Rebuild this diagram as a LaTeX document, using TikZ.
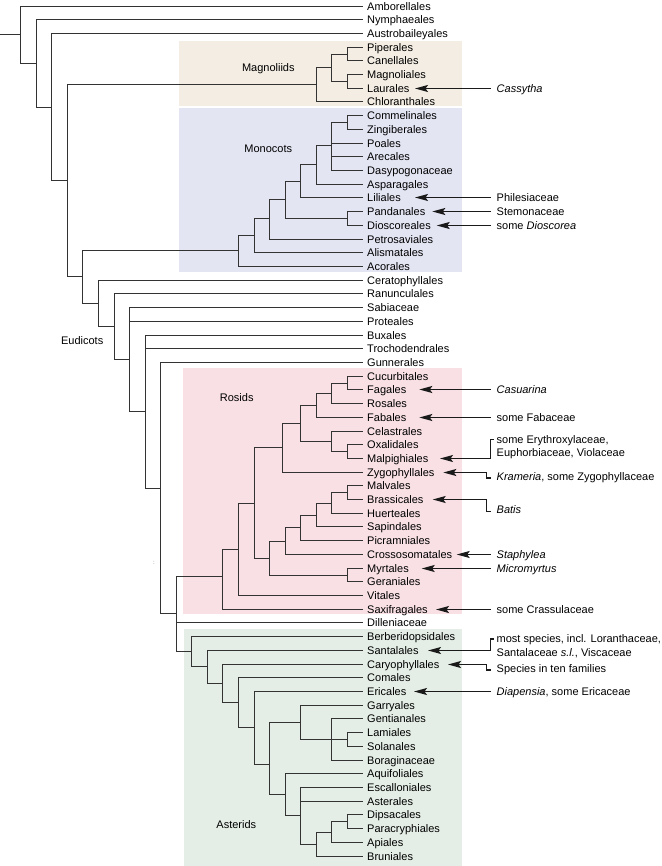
\documentclass[tikz,border=0pt]{standalone}
\usepackage{fontspec}
\setmainfont{Liberation Sans}
\usetikzlibrary{arrows.meta}
\definecolor{treecol}{HTML}{333333}
\definecolor{arrcol}{HTML}{1A1A1A}
\definecolor{magbg}{HTML}{F3EDE3}
\definecolor{monbg}{HTML}{E3E5F3}
\definecolor{rosbg}{HTML}{F8E0E4}
\definecolor{astbg}{HTML}{E4EEE6}
\newcommand\mkleaf[3]{\node[leaf] (#1) at (363,{floor(6+13.71*#2)+0.5}) {#3};}
\begin{document}
\begin{tikzpicture}[x=1pt,y=-1pt,
  font=\fontsize{11}{13}\selectfont,
  leaf/.style={anchor=west,inner xsep=4pt,inner ysep=0pt,text height=8.5pt,text depth=1pt},
  ann/.style={anchor=west,inner xsep=6pt,inner ysep=0pt,text height=8.5pt,text depth=1pt},
  grp/.style={inner sep=0pt,text height=8.5pt,text depth=1pt},
  br/.style={line width=1.8pt,draw=treecol},
  arr/.style={line width=1.4pt,draw=arrcol,-{Stealth[length=13pt,width=7pt,inset=2.5pt]}}
]
\useasboundingbox (0,0) rectangle (661,866);
% clade backgrounds
\fill[magbg] (179,41) rectangle (462,106);
\fill[monbg] (179,108) rectangle (462,272);
\fill[rosbg] (183,368) rectangle (462,614);
\fill[astbg] (184,629) rectangle (462,866);
% leaves
\mkleaf{Amb}{0}{Amborellales}
\mkleaf{Nym}{1}{Nymphaeales}
\mkleaf{Aus}{2}{Austrobaileyales}
\mkleaf{Pip}{3}{Piperales}
\mkleaf{Can}{4}{Canellales}
\mkleaf{Mag}{5}{Magnoliales}
\mkleaf{Lau}{6}{Laurales}
\mkleaf{Chl}{7}{Chloranthales}
\mkleaf{Com}{8}{Commelinales}
\mkleaf{Zin}{9}{Zingiberales}
\mkleaf{Poa}{10}{Poales}
\mkleaf{Are}{11}{Arecales}
\mkleaf{Das}{12}{Dasypogonaceae}
\mkleaf{Asp}{13}{Asparagales}
\mkleaf{Lil}{14}{Liliales}
\mkleaf{Pan}{15}{Pandanales}
\mkleaf{Dio}{16}{Dioscoreales}
\mkleaf{Pet}{17}{Petrosaviales}
\mkleaf{Ali}{18}{Alismatales}
\mkleaf{Aco}{19}{Acorales}
\mkleaf{Cer}{20}{Ceratophyllales}
\mkleaf{Ran}{21}{Ranunculales}
\mkleaf{Sab}{22}{Sabiaceae}
\mkleaf{Pro}{23}{Proteales}
\mkleaf{Bux}{24}{Buxales}
\mkleaf{Tro}{25}{Trochodendrales}
\mkleaf{Gun}{26}{Gunnerales}
\mkleaf{Cuc}{27}{Cucurbitales}
\mkleaf{Fag}{28}{Fagales}
\mkleaf{Ros}{29}{Rosales}
\mkleaf{Fab}{30}{Fabales}
\mkleaf{Cel}{31}{Celastrales}
\mkleaf{Oxa}{32}{Oxalidales}
\mkleaf{Mal}{33}{Malpighiales}
\mkleaf{Zyg}{34}{Zygophyllales}
\mkleaf{Mlv}{35}{Malvales}
\mkleaf{Bra}{36}{Brassicales}
\mkleaf{Hue}{37}{Huerteales}
\mkleaf{Sap}{38}{Sapindales}
\mkleaf{Pic}{39}{Picramniales}
\mkleaf{Cro}{40}{Crossosomatales}
\mkleaf{Myr}{41}{Myrtales}
\mkleaf{Ger}{42}{Geraniales}
\mkleaf{Vit}{43}{Vitales}
\mkleaf{Sax}{44}{Saxifragales}
\mkleaf{Dil}{45}{Dilleniaceae}
\mkleaf{Ber}{46}{Berberidopsidales}
\mkleaf{San}{47}{Santalales}
\mkleaf{Car}{48}{Caryophyllales}
\mkleaf{Cor}{49}{Comales}
\mkleaf{Eri}{50}{Ericales}
\mkleaf{Gar}{51}{Garryales}
\mkleaf{Gen}{52}{Gentianales}
\mkleaf{Lam}{53}{Lamiales}
\mkleaf{Sol}{54}{Solanales}
\mkleaf{Bor}{55}{Boraginaceae}
\mkleaf{Aqu}{56}{Aquifoliales}
\mkleaf{Esc}{57}{Escalloniales}
\mkleaf{Ast}{58}{Asterales}
\mkleaf{Dip}{59}{Dipsacales}
\mkleaf{Par}{60}{Paracryphiales}
\mkleaf{Api}{61}{Apiales}
\mkleaf{Bru}{62}{Bruniales}
% internal nodes
\coordinate (r0) at (0,34.5);
\coordinate (n1) at (20.5,34.5);
\coordinate (n2) at (36.5,63.5);
\coordinate (n3) at (51.5,107.5);
\coordinate (n4) at (67.5,180.5);
\coordinate (n5) at (82.5,276.5);
\coordinate (n6) at (98.5,303.5);
\coordinate (n7) at (114.5,326.5);
\coordinate (n8) at (129.5,359.5);
\coordinate (n9) at (145.5,411.5);
\coordinate (n10) at (160.5,488.5);
\coordinate (n11) at (176.5,613.5);
\coordinate (m1) at (316.5,84.5);
\coordinate (m2) at (331.5,67.5);
\coordinate (m3) at (347.5,54.5);
\coordinate (m4) at (347.5,81.5);
\coordinate (k1) at (238.5,250.5);
\coordinate (k2) at (254.5,235.5);
\coordinate (k3) at (269.5,218.5);
\coordinate (k4) at (285.5,199.5);
\coordinate (k5) at (300.5,181.5);
\coordinate (k6) at (347.5,218.5);
\coordinate (k7) at (316.5,164.5);
\coordinate (k8) at (331.5,145.5);
\coordinate (k9) at (347.5,122.5);
\coordinate (ro1) at (222.5,576.5);
\coordinate (ro2) at (238.5,549.5);
\coordinate (ro3) at (254.5,503.5);
\coordinate (fab1) at (282.5,447.5);
\coordinate (fab2) at (300.5,423.5);
\coordinate (fab3) at (316.5,405.5);
\coordinate (fab4) at (331.5,393.5);
\coordinate (fab5) at (347.5,383.5);
\coordinate (cel1) at (331.5,441.5);
\coordinate (cel2) at (347.5,451.5);
\coordinate (mal1) at (269.5,558.5);
\coordinate (mal2) at (285.5,541.5);
\coordinate (mal3) at (300.5,527.5);
\coordinate (mal4) at (316.5,515.5);
\coordinate (mal5) at (331.5,503.5);
\coordinate (mal6) at (347.5,492.5);
\coordinate (myr1) at (347.5,575.5);
\coordinate (a1) at (191.5,651.5);
\coordinate (a2) at (207.5,666.5);
\coordinate (a3) at (222.5,683.5);
\coordinate (a4) at (238.5,702.5);
\coordinate (a5) at (254.5,727.5);
\coordinate (a6) at (269.5,764.5);
\coordinate (a7) at (300.5,722.5);
\coordinate (a8) at (285.5,794.5);
\coordinate (a9) at (331.5,739.5);
\coordinate (a10) at (347.5,739.5);
\coordinate (a11) at (300.5,815.5);
\coordinate (a12) at (316.5,844.5);
\coordinate (a13) at (331.5,832.5);
\coordinate (a14) at (347.5,821.5);
% branches
\draw[br] (r0) -- (n1);
\foreach \p/\c in {n1/n2,n2/n3,n3/n4,n4/m1,n4/n5,m1/m2,m2/m3,m2/m4,n5/k1,n5/n6,
  k1/k2,k2/k3,k3/k4,k4/k5,k4/k6,k5/k7,k7/k8,k8/k9,n6/n7,n7/n8,n8/n9,n9/n10,n10/n11,
  n11/ro1,n11/a1,ro1/ro2,ro2/ro3,ro3/fab1,ro3/mal1,fab1/fab2,fab2/fab3,fab2/cel1,
  fab3/fab4,fab4/fab5,cel1/cel2,mal1/mal2,mal1/myr1,mal2/mal3,mal3/mal4,mal4/mal5,
  mal5/mal6,a1/a2,a2/a3,a3/a4,a4/a5,a5/a6,a6/a7,a6/a8,a7/a9,a9/a10,a8/a11,a11/a12,
  a12/a13,a13/a14}
  \draw[br] (\p) |- (\c);
\foreach \p/\c in {n1/Amb,n2/Nym,n3/Aus,m1/Chl,m3/Pip,m3/Can,m4/Mag,m4/Lau,
  k1/Aco,k2/Ali,k3/Pet,k6/Pan,k6/Dio,k5/Lil,k7/Asp,k8/Poa,k8/Are,k8/Das,k9/Com,k9/Zin,
  n6/Cer,n7/Ran,n8/Sab,n8/Pro,n9/Bux,n9/Tro,n10/Gun,n11/Dil,
  ro1/Sax,ro2/Vit,fab1/Zyg,fab3/Fab,fab4/Ros,fab5/Cuc,fab5/Fag,cel1/Cel,cel2/Oxa,cel2/Mal,
  myr1/Myr,myr1/Ger,mal2/Cro,mal3/Pic,mal4/Sap,mal5/Hue,mal6/Mlv,mal6/Bra,
  a1/Ber,a2/San,a3/Car,a4/Cor,a5/Eri,a7/Gar,a9/Gen,a9/Bor,a10/Lam,a10/Sol,
  a8/Aqu,a11/Esc,a11/Ast,a12/Bru,a13/Api,a14/Dip,a14/Par}
  \draw[br] (\p) |- (\c.west);
% group labels
\node[grp] (lmag) at (268.3,67.3) {Magnoliids};
\node[grp] (lmon) at (268.3,148.7) {Monocots};
\node[grp] (leud) at (82.2,341) {Eudicots};
\node[grp] (lros) at (236.7,397.7) {Rosids};
\node[grp] (lasd) at (236.3,825) {Asterids};
\node[inner sep=0pt,font=\fontsize{6}{6}\selectfont,text=gray] (dots) at (154,563) {:};
% annotations (aligned on the rows of the leaves they point to)
\node[ann] (cas) at ([xshift=127.5pt]Lau.west) {\textit{Cassytha}};
\node[ann] (phi) at ([xshift=127.5pt]Lil.west) {Philesiaceae};
\node[ann] (ste) at ([xshift=127.5pt]Pan.west) {Stemonaceae};
\node[ann] (dsc) at ([xshift=127.5pt]Dio.west) {some \textit{Dioscorea}};
\node[ann] (csu) at ([xshift=127.5pt]Fag.west) {\textit{Casuarina}};
\node[ann] (sfb) at ([xshift=127.5pt]Fab.west) {some Fabaceae};
\node[ann] (ery) at (490.5,439.5) {some Erythroxylaceae,};
\node[ann] (eup) at (490.5,453) {Euphorbiaceae, Violaceae};
\node[ann] (kra) at (490.5,476.5) {\textit{Krameria}, some Zygophyllaceae};
\node[ann] (bat) at (490.5,510) {\textit{Batis}};
\node[ann] (sta) at ([xshift=127.5pt]Cro.west) {\textit{Staphylea}};
\node[ann] (mic) at ([xshift=127.5pt]Myr.west) {\textit{Micromyrtus}};
\node[ann] (cra) at ([xshift=127.5pt]Sax.west) {some Crassulaceae};
\node[ann] (lor) at (490.5,639) {most species, incl. Loranthaceae,};
\node[ann] (vis) at (490.5,652.5) {Santalaceae \textit{s.l.}, Viscaceae};
\node[ann] (ten) at (490.5,668.5) {Species in ten families};
\node[ann] (dia) at ([xshift=127.5pt]Eri.west) {\textit{Diapensia}, some Ericaceae};
% arrow tips, just right of the leaf labels
\path (Lau.west) ++(52,0) coordinate (tLau);
\path (Lil.west) ++(52,0) coordinate (tLil);
\path (Pan.west) ++(69.3,0) coordinate (tPan);
\path (Dio.west) ++(73.7,0) coordinate (tDio);
\path (Fag.west) ++(56.3,0) coordinate (tFag);
\path (Fab.west) ++(56.3,0) coordinate (tFab);
\path (Mal.west) ++(77,0) coordinate (tMal);
\path (Zyg.west) ++(80.3,0) coordinate (tZyg);
\path (Bra.west) ++(69.7,0) coordinate (tBra);
\path (Cro.west) ++(93.7,0) coordinate (tCro);
\path (Myr.west) ++(58.7,0) coordinate (tMyr);
\path (Sax.west) ++(73,0) coordinate (tSax);
\path (San.west) ++(65,0) coordinate (tSan);
\path (Car.west) ++(85,0) coordinate (tCar);
\path (Eri.west) ++(51,0) coordinate (tEri);
% arrows
\draw[arr] (cas.west) -- (tLau);
\draw[arr] (phi.west) -- (tLil);
\draw[arr] (ste.west) -- (tPan);
\draw[arr] (dsc.west) -- (tDio);
\draw[arr] (csu.west) -- (tFag);
\draw[arr] (sfb.west) -- (tFab);
\draw[arr] ([xshift=3pt]ery.west) -- (ery.west) |- (tMal);
\draw[arr] ([yshift=-1.5pt]kra.west) -- ++(-4,0) |- (tZyg);
\draw[arr] ([yshift=-1.5pt]bat.west) -- ++(-4,0) |- (tBra);
\draw[arr] (sta.west) -- (tCro);
\draw[arr] (mic.west) -- (tMyr);
\draw[arr] (cra.west) -- (tSax);
\draw[arr] ([xshift=3pt]lor.west) -- (lor.west) |- (tSan);
\draw[arr] ([yshift=-1.5pt]ten.west) -- ++(-4,0) |- (tCar);
\draw[arr] (dia.west) -- (tEri);
\end{tikzpicture}
\end{document}
